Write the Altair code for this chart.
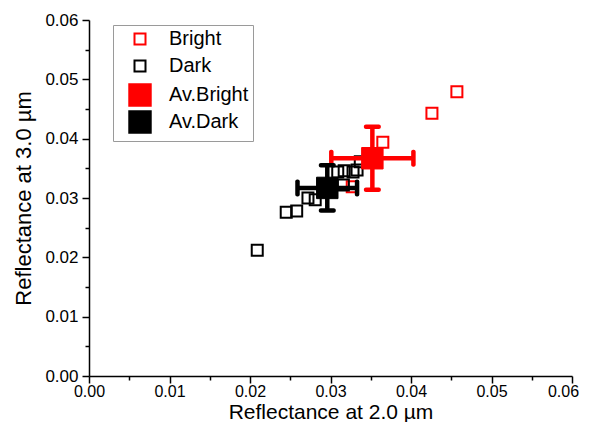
import altair as alt
import pandas as pd

# ---- data ----
bright_x = [0.0457, 0.0426, 0.0365, 0.0327]
bright_y = [0.0479, 0.0443, 0.0394, 0.0319]

dark_x = [0.0209, 0.0245, 0.0258, 0.0272, 0.0281, 0.0309, 0.0317, 0.0328, 0.0333, 0.0316, 0.0337]
dark_y = [0.0212, 0.0276, 0.0278, 0.0300, 0.0297, 0.0344, 0.0346, 0.0344, 0.0347, 0.0322, 0.0361]

avg_series = ["Av.Bright", "Av.Dark"]
avg_x = [0.0352, 0.0296]
avg_y = [0.0367, 0.0317]
avg_xerr = [0.0051, 0.0037]
avg_yerr = [0.0053, 0.0038]

series_order = ["Bright", "Dark", "Av.Bright", "Av.Dark"]
stroke_colors = ["#ff0000", "#000000", "#ff0000", "#000000"]
fill_colors = ["transparent", "transparent", "#ff0000", "#000000"]
marker_sizes = [121, 121, 460, 460]

tick_values = [0.0, 0.005, 0.01, 0.015, 0.02, 0.025, 0.03, 0.035, 0.04, 0.045, 0.05, 0.055, 0.06]

x_title = "Reflectance at 2.0 µm"
y_title = "Reflectance at 3.0 µm"

FONT = "Liberation Sans"

# ---- tables ----
pts = pd.DataFrame({
    "x": bright_x + dark_x,
    "y": bright_y + dark_y,
    "series": ["Bright"] * len(bright_x) + ["Dark"] * len(dark_x),
})
avg = pd.DataFrame({"x": avg_x, "y": avg_y, "series": avg_series,
                    "xerr": avg_xerr, "yerr": avg_yerr})
avg["xlo"] = avg["x"] - avg["xerr"]
avg["xhi"] = avg["x"] + avg["xerr"]
avg["ylo"] = avg["y"] - avg["yerr"]
avg["yhi"] = avg["y"] + avg["yerr"]

minor_test = "round(datum.value*200) % 2 == 1"
label_expr = "round(datum.value*200) % 2 == 1 ? '' : format(datum.value, '.2f')"

common_axis = dict(
    values=tick_values, labelExpr=label_expr, grid=False,
    domainColor="black", domainWidth=1.5, tickColor="black", tickWidth=1.5,
    tickSize={"condition": {"test": minor_test, "value": 4}, "value": 7},
    labelFont=FONT, labelColor="black", labelOverlap=False,
    labelFlush=False, titleFont=FONT, titleFontWeight="normal",
    titleColor="black",
)
x_axis = alt.Axis(title=x_title, labelPadding=0, titlePadding=2, titleFontSize=21,
                  labelFontSize=16,
                  labelOffset={"condition": {"test": "datum.value >= 0.0599", "value": -9}, "value": 0},
                  **common_axis)
y_axis = alt.Axis(title=y_title, labelPadding=4, titlePadding=9, titleFontSize=22,
                  labelFontSize=17, **common_axis)

x_scale = alt.Scale(domain=[0, 0.06], nice=False, zero=False)
y_scale = alt.Scale(domain=[0, 0.06], nice=False, zero=False)

legend = alt.Legend(
    title=None, orient="none", legendX=24, legendY=5, symbolType="square",
    symbolStrokeWidth=2, labelFont=FONT, labelFontSize=20, labelColor="black",
    strokeColor="#9a9a9a", fillColor="white", padding=4, symbolOffset=11,
    labelOffset=17, rowPadding=-8, gridAlign="all",
)

def series_enc():
    return dict(
        color=alt.Color("series:N", scale=alt.Scale(domain=series_order, range=stroke_colors), legend=legend),
        fill=alt.Fill("series:N", scale=alt.Scale(domain=series_order, range=fill_colors), legend=legend),
        size=alt.Size("series:N", scale=alt.Scale(type="ordinal", domain=series_order, range=marker_sizes), legend=legend),
    )

open_pts = alt.Chart(pts).mark_point(shape="square", filled=False, strokeWidth=2, opacity=1).encode(
    x=alt.X("x:Q", scale=x_scale, axis=x_axis),
    y=alt.Y("y:Q", scale=y_scale, axis=y_axis),
    **series_enc(),
)

def err_layers(name, color):
    d = alt.Chart(avg).transform_filter(alt.datum.series == name)
    ex = dict(scale=x_scale, axis=x_axis)
    ey = dict(scale=y_scale, axis=y_axis)
    hbar = d.mark_rule(color=color, strokeWidth=4.5).encode(
        x=alt.X("xlo:Q", **ex), x2="xhi:Q", y=alt.Y("y:Q", **ey))
    vbar = d.mark_rule(color=color, strokeWidth=4.5).encode(
        x=alt.X("x:Q", **ex), y=alt.Y("ylo:Q", **ey), y2="yhi:Q")
    caps = []
    for xf, yf, orient in [("xlo", "y", "vertical"), ("xhi", "y", "vertical"),
                           ("x", "ylo", "horizontal"), ("x", "yhi", "horizontal")]:
        caps.append(d.mark_tick(color=color, orient=orient, size=17, thickness=4.5,
                                cornerRadius=2, opacity=1).encode(
            x=alt.X(f"{xf}:Q", **ex), y=alt.Y(f"{yf}:Q", **ey)))
    return [hbar, vbar] + caps

avg_pts = alt.Chart(avg).mark_point(shape="square", filled=False, strokeWidth=1, opacity=1).encode(
    x=alt.X("x:Q", scale=x_scale, axis=x_axis),
    y=alt.Y("y:Q", scale=y_scale, axis=y_axis),
    **series_enc(),
)

chart = alt.layer(
    open_pts,
    *err_layers("Av.Bright", "#ff0000"),
    *err_layers("Av.Dark", "#000000"),
    avg_pts,
).properties(
    width=483, height=356,
    autosize=alt.AutoSizeParams(type="none"),
    padding={"left": 81, "top": 12, "right": 8, "bottom": 46},
    background="white",
).configure_view(stroke=None)

chart.save("out.html", embed_options={"renderer": "svg", "actions": False})
